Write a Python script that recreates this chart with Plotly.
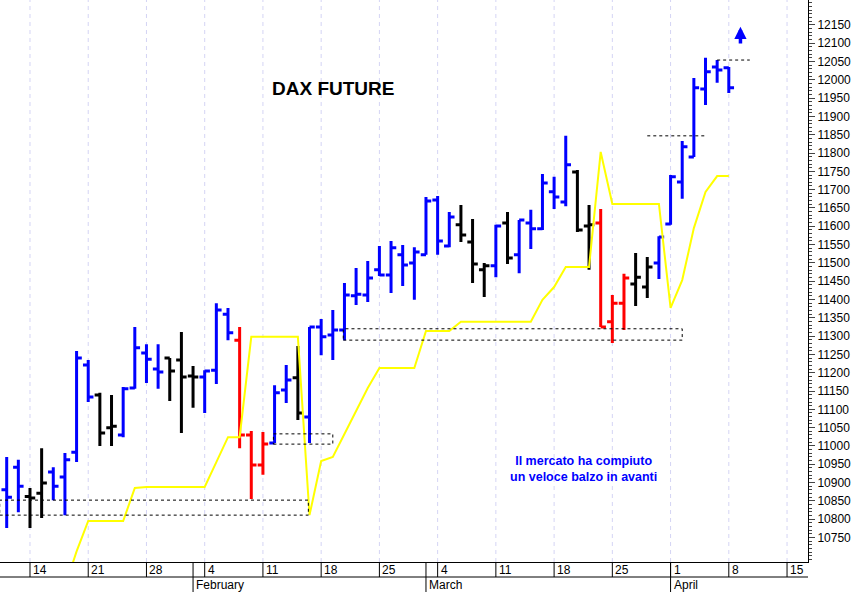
import plotly.graph_objects as go

dates = ["Jan10","Jan11","Jan14","Jan15","Jan16","Jan17","Jan18","Jan21","Jan22","Jan23","Jan24","Jan25",
         "Jan28","Jan29","Jan30","Jan31","Feb1","Feb4","Feb5","Feb6","Feb7","Feb8","Feb11","Feb12","Feb13",
         "Feb14","Feb15","Feb18","Feb19","Feb20","Feb21","Feb22","Feb25","Feb26","Feb27","Feb28","Mar1",
         "Mar4","Mar5","Mar6","Mar7","Mar8","Mar11","Mar12","Mar13","Mar14","Mar15","Mar18","Mar19",
         "Mar20","Mar21","Mar22","Mar25","Mar26","Mar27","Mar28","Mar29","Apr1","Apr2","Apr3","Apr4",
         "Apr5","Apr8"]
opens  = [10880,10942,10862,10871,10929,10915,10983,11221,11139,11050,11030,11158,11254,11210,11240,11235,
          11191,11188,11207,11360,11289,11030,10948,11008,11153,11186,11079,11325,11303,11317,11410,11412,
          11481,11467,11522,11500,11522,11672,11546,11604,11557,11481,11492,11609,11522,11609,11593,11694,
          11666,11748,11601,11609,11339,11390,11442,11434,11500,11606,11721,11789,11975,12035,12033]
highs  = [10970,10962,10885,10994,10942,10981,11259,11235,11145,11139,11161,11325,11278,11278,11240,11311,
          11218,11207,11390,11377,11325,11041,11038,11166,11221,11273,11325,11347,11371,11445,11486,11505,
          11546,11560,11549,11543,11680,11683,11639,11658,11620,11500,11604,11639,11617,11645,11743,11735,
          11847,11754,11658,11647,11412,11470,11527,11516,11573,11740,11833,12005,12060,12054,12035]
lows   = [10776,10819,10776,10803,10852,10811,10956,11120,11000,11000,11024,11156,11172,11156,11123,11035,
          11104,11090,11169,11289,10994,10855,10921,11008,11117,11071,11008,11248,11235,11289,11385,11393,
          11464,11418,11437,11399,11522,11522,11543,11557,11445,11407,11461,11497,11472,11538,11590,11647,
          11655,11584,11481,11325,11281,11317,11382,11404,11456,11604,11675,11789,11931,11992,11964]
closes = [10860,10890,10858,10899,10890,10962,11240,11134,11035,11054,11156,11268,11237,11202,11205,11188,
          11188,11205,11371,11309,11030,10948,11005,11145,11180,11090,11325,11298,11317,11412,11414,11459,
          11467,11541,11494,11530,11669,11560,11625,11576,11497,11492,11601,11513,11617,11593,11718,11680,
          11768,11590,11604,11325,11390,11459,11461,11489,11571,11735,11817,11978,12022,12027,11978]
bar_colors = list("bbkkbbbbkkbbbbkkkbbbrrrbbkbbbbbbbbbbbbbkkkbkbbbbbkkrrrkkbbbbbbb")
yellow = [None,None,None,None,None,10615,10712,10795,10795,10795,10795,10885,10888,10888,10888,10888,
          10888,10888,10956,11024,11024,11298,11298,11298,11298,11298,10811,10959,10970,11033,11096,11158,
          11213,11213,11213,11213,11314,11314,11314,11339,11339,11339,11339,11339,11339,11339,11399,11434,
          11489,11489,11489,11803,11661,11661,11661,11661,11661,11377,11453,11595,11694,11737,11737]

boxes = [(-0.6, 25.9, 10811, 10852), (22.9, 28.0, 11005, 11033), (28.9, 58.0, 11289, 11320)]
levels = [(55.0, 59.9, 11847), (61.0, 63.8, 12054)]

monday_idx = [2,7,12,17,22,27,32,37,42,47,52,57,62,67]
monday_lbl = ["14","21","28","4","11","18","25","4","11","18","25","1","8","15"]
month_idx = [16,36,57]
month_lbl = ["February","March","April"]
price_ticks = list(range(10750, 12151, 50))

cmap = {"b": "#0000ff", "k": "#000000", "r": "#ff0000"}
fig = go.Figure()
x = list(range(len(dates)))
fig.add_trace(go.Scatter(x=x, y=yellow, mode="lines", line=dict(color="#ffff00", width=2),
                         hoverinfo="skip", showlegend=False))
for key, col in cmap.items():
    idx = [i for i, c in enumerate(bar_colors) if c == key]
    fig.add_trace(go.Ohlc(x=[x[i] for i in idx], open=[opens[i] for i in idx], high=[highs[i] for i in idx],
                          low=[lows[i] for i in idx], close=[closes[i] for i in idx],
                          text=[dates[i] for i in idx], tickwidth=0.45,
                          increasing=dict(line=dict(color=col, width=3)),
                          decreasing=dict(line=dict(color=col, width=3)), showlegend=False))

dash = "3px,3px"
shapes = []
for x0, x1, y0, y1 in boxes:
    shapes.append(dict(type="rect", x0=x0, x1=x1, y0=y0, y1=y1, xref="x", yref="y",
                       line=dict(color="black", width=1, dash=dash)))
for x0, x1, yv in levels:
    shapes.append(dict(type="line", x0=x0, x1=x1, y0=yv, y1=yv, xref="x", yref="y",
                       line=dict(color="black", width=1, dash=dash)))
for m in monday_idx:
    shapes.append(dict(type="line", x0=m, x1=m, y0=0, y1=1, xref="x", yref="paper",
                       line=dict(color="#d4d4f4", width=1, dash="4px,4px"), layer="below"))
    shapes.append(dict(type="line", x0=m, x1=m, y0=0, y1=-0.0267, xref="x", yref="paper",
                       line=dict(color="black", width=1)))
for m in month_idx:
    shapes.append(dict(type="line", x0=m, x1=m, y0=0, y1=-0.06, xref="x", yref="paper",
                       line=dict(color="black", width=1)))
shapes.append(dict(type="line", x0=0, x1=1, y0=-0.0267, y1=-0.0267, xref="paper", yref="paper",
                   line=dict(color="black", width=1)))

ann = []
for m, t in zip(monday_idx, monday_lbl):
    ann.append(dict(x=m, y=-0.0135, xref="x", yref="paper", text=t, showarrow=False, xanchor="left",
                    xshift=1, yanchor="middle", font=dict(size=12, color="black")))
for m, t in zip(month_idx, month_lbl):
    ann.append(dict(x=m, y=-0.041, xref="x", yref="paper", text=t, showarrow=False, xanchor="left",
                    xshift=1, yanchor="middle", font=dict(size=12, color="black")))
ann.append(dict(x=28.0, y=11975, text="<b>DAX FUTURE</b>", showarrow=False,
                font=dict(size=19, color="black")))
ann.append(dict(x=49.5, y=10938, text="<b>Il mercato ha compiuto<br>un veloce balzo in avanti</b>",
                showarrow=False, font=dict(size=12.5, color="#0000ff")))
ann.append(dict(x=63.0, y=12145, ax=63.0, ay=12095, xref="x", yref="y", axref="x", ayref="y",
                text="", showarrow=True, arrowhead=2, arrowsize=0.7, arrowwidth=3.5, arrowcolor="#0000ff"))

fig.update_layout(
    width=866, height=592, margin=dict(l=0, r=58, t=0, b=30, autoexpand=False),
    paper_bgcolor="white", plot_bgcolor="white",
    font=dict(family="Liberation Sans, Arial, sans-serif", size=12, color="black"),
    shapes=shapes, annotations=ann,
    xaxis=dict(range=[-0.575, 68.8], showticklabels=False, showgrid=False, zeroline=False,
               rangeslider=dict(visible=False), showline=True, linecolor="black", mirror=True, ticks=""),
    yaxis=dict(side="right", range=[10683, 12218], tickvals=price_ticks, tickformat="d",
               showgrid=False, zeroline=False, automargin=False,
               ticks="outside", ticklen=6, showline=True, linecolor="black", mirror=True,
               minor=dict(dtick=10, ticks="outside", ticklen=3), tickfont=dict(size=12)),
)
fig.write_html("out.html", config={"displayModeBar": False},
               post_script="document.body.style.margin='0';")
